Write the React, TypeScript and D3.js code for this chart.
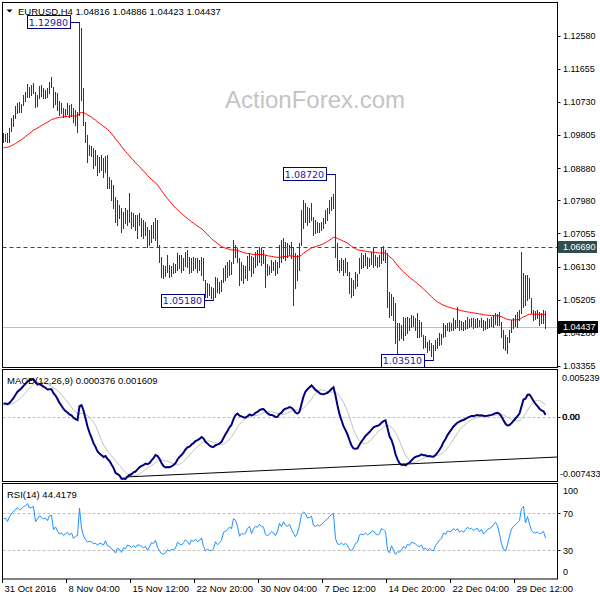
import React from "react";
import * as d3 from "d3";

// ---- OHLC data (EURUSD H4), bar 0 = 31 Oct 2016 20:00 ----
const highs = [
  1.0987,1.0984,1.0987,1.1001,1.1029,1.1037,1.1062,1.1071,1.1073,1.1068,
  1.1093,1.1101,1.1124,1.1115,1.1121,1.1126,1.1101,1.1093,1.1118,1.1121,
  1.1113,1.1107,1.1113,1.1129,1.1143,1.1115,1.1101,1.1099,1.1076,1.1071,
  1.1057,1.1054,1.1071,1.1065,1.1068,1.1057,1.1051,1.1045,1.1298,1.1280,
  1.1113,1.1017,1.0981,1.0953,1.0950,1.0945,1.0939,1.0925,1.0919,1.0925,
  1.0917,1.0922,1.0925,1.0863,1.0855,1.0841,1.0808,1.0799,1.0785,1.0777,
  1.0766,1.0777,1.0771,1.0819,1.0766,1.0763,1.0757,1.0757,1.0763,1.0749,
  1.0743,1.0738,1.0724,1.0715,1.0729,1.0738,1.0749,1.0743,1.0673,1.0640,
  1.0617,1.0614,1.0645,1.0617,1.0614,1.0623,1.0620,1.0651,1.0645,1.0645,
  1.0637,1.0654,1.0659,1.0640,1.0637,1.0640,1.0637,1.0637,1.0631,1.0640,
  1.0637,1.0575,1.0567,1.0564,1.0556,1.0553,1.0584,1.0581,1.0570,1.0575,
  1.0609,1.0617,1.0626,1.0631,1.0626,1.0687,1.0673,1.0665,1.0637,1.0626,
  1.0617,1.0614,1.0642,1.0651,1.0642,1.0640,1.0654,1.0659,1.0668,1.0665,
  1.0659,1.0645,1.0620,1.0614,1.0631,1.0626,1.0631,1.0626,1.0673,1.0687,
  1.0693,1.0682,1.0679,1.0673,1.0682,1.0668,1.0651,1.0645,1.0679,1.0771,
  1.0799,1.0791,1.0780,1.0777,1.0791,1.0752,1.0743,1.0738,1.0735,1.0738,
  1.0749,1.0771,1.0777,1.0799,1.0808,1.0816,1.0872,1.0679,1.0631,1.0637,
  1.0631,1.0637,1.0626,1.0598,1.0581,1.0575,1.0598,1.0592,1.0637,1.0651,
  1.0645,1.0651,1.0640,1.0637,1.0654,1.0668,1.0645,1.0640,1.0645,1.0668,
  1.0671,1.0659,1.0651,1.0542,1.0536,1.0528,1.0511,1.0455,1.0455,1.0449,
  1.0472,1.0469,1.0472,1.0469,1.0477,1.0475,1.0469,1.0483,1.0463,1.0458,
  1.0421,1.0419,1.0402,1.0407,1.0399,1.0393,1.0407,1.0413,1.0427,1.0424,
  1.0455,1.0449,1.0455,1.0458,1.0455,1.0469,1.0463,1.0500,1.0463,1.0460,
  1.0458,1.0463,1.0472,1.0466,1.0469,1.0469,1.0466,1.0469,1.0463,1.0469,
  1.0463,1.0460,1.0469,1.0466,1.0472,1.0477,1.0483,1.0480,1.0486,1.0458,
  1.0435,1.0421,1.0416,1.0435,1.0463,1.0469,1.0477,1.0486,1.0491,1.0654,
  1.0595,1.0589,1.0589,1.0581,1.0525,1.0491,1.0489,1.0491,1.0486,1.0483,
  1.0491,1.04886,
];
const lows = [
  1.0961,1.0964,1.0961,1.0961,1.0992,1.1006,1.1029,1.1043,1.1045,1.1045,
  1.1065,1.1076,1.1087,1.1087,1.1093,1.1099,1.1059,1.1062,1.1085,1.1090,
  1.1085,1.1085,1.1087,1.1099,1.1115,1.1059,1.1068,1.1051,1.1037,1.1043,
  1.1031,1.1034,1.1040,1.1031,1.1034,1.1017,1.1009,1.0989,1.1037,1.1079,
  1.1009,1.0961,1.0905,1.0925,1.0922,1.0889,1.0897,1.0869,1.0877,1.0883,
  1.0863,1.0877,1.0833,1.0833,1.0799,1.0777,1.0738,1.0729,1.0749,1.0710,
  1.0721,1.0735,1.0729,1.0738,1.0721,1.0726,1.0715,1.0693,1.0729,1.0698,
  1.0693,1.0701,1.0668,1.0673,1.0682,1.0693,1.0687,1.0668,1.0626,1.0584,
  1.0581,1.0587,1.0598,1.0584,1.0587,1.0595,1.0598,1.0603,1.0609,1.0598,
  1.0603,1.0614,1.0612,1.0595,1.0598,1.0603,1.0609,1.0598,1.0603,1.0589,
  1.0575,1.0528,1.0528,1.0533,1.0525,1.0518,1.0528,1.0542,1.0539,1.0544,
  1.0570,1.0575,1.0584,1.0589,1.0592,1.0623,1.0640,1.0626,1.0561,1.0575,
  1.0567,1.0581,1.0575,1.0603,1.0587,1.0595,1.0612,1.0617,1.0626,1.0617,
  1.0623,1.0556,1.0589,1.0592,1.0598,1.0603,1.0589,1.0595,1.0612,1.0626,
  1.0637,1.0631,1.0640,1.0645,1.0637,1.0505,1.0553,1.0575,1.0603,1.0673,
  1.0721,1.0738,1.0729,1.0738,1.0743,1.0701,1.0707,1.0710,1.0710,1.0715,
  1.0721,1.0735,1.0743,1.0763,1.0771,1.0777,1.0640,1.0603,1.0598,1.0603,
  1.0589,1.0598,1.0589,1.0539,1.0528,1.0533,1.0553,1.0559,1.0595,1.0609,
  1.0612,1.0617,1.0609,1.0614,1.0620,1.0612,1.0617,1.0612,1.0614,1.0623,
  1.0631,1.0626,1.0500,1.0472,1.0477,1.0463,1.0399,1.0371,1.0407,1.0413,
  1.0407,1.0421,1.0427,1.0435,1.0444,1.0447,1.0435,1.0416,1.0416,1.0419,
  1.0385,1.0388,1.0374,1.0379,1.0363,1.0351,1.0379,1.0385,1.0393,1.0396,
  1.0416,1.0419,1.0435,1.0433,1.0435,1.0435,1.0441,1.0444,1.0435,1.0438,
  1.0435,1.0438,1.0441,1.0444,1.0447,1.0441,1.0444,1.0444,1.0447,1.0444,
  1.0435,1.0438,1.0441,1.0444,1.0447,1.0444,1.0452,1.0449,1.0449,1.0416,
  1.0385,1.0379,1.0371,1.0402,1.0430,1.0441,1.0447,1.0444,1.0463,1.0483,
  1.0500,1.0505,1.0519,1.0525,1.0483,1.0463,1.0466,1.0469,1.0449,1.0455,
  1.0455,1.04423,
];
const closes = [
  1.0973,1.0978,1.0967,1.0995,1.1017,1.1029,1.1051,1.1062,1.1057,1.1065,
  1.1085,1.1093,1.1113,1.1101,1.1107,1.1115,1.1068,1.1085,1.1107,1.1101,
  1.1096,1.1101,1.1093,1.1121,1.1124,1.1071,1.1085,1.1065,1.1051,1.1057,
  1.1045,1.1051,1.1057,1.1045,1.1054,1.1029,1.1037,1.1040,1.1247,1.1107,
  1.1023,1.0973,1.0939,1.0945,1.0939,1.0911,1.0917,1.0889,1.0905,1.0897,
  1.0883,1.0911,1.0855,1.0849,1.0813,1.0799,1.0757,1.0785,1.0771,1.0729,
  1.0757,1.0743,1.0766,1.0757,1.0738,1.0749,1.0729,1.0743,1.0738,1.0729,
  1.0715,1.0721,1.0687,1.0701,1.0721,1.0715,1.0729,1.0673,1.0637,1.0603,
  1.0598,1.0603,1.0617,1.0603,1.0609,1.0609,1.0614,1.0637,1.0626,1.0617,
  1.0626,1.0637,1.0626,1.0609,1.0626,1.0617,1.0626,1.0614,1.0617,1.0626,
  1.0581,1.0547,1.0553,1.0542,1.0542,1.0547,1.0570,1.0553,1.0559,1.0567,
  1.0598,1.0603,1.0609,1.0620,1.0614,1.0665,1.0659,1.0637,1.0589,1.0603,
  1.0598,1.0603,1.0626,1.0637,1.0603,1.0626,1.0642,1.0637,1.0654,1.0645,
  1.0642,1.0609,1.0603,1.0609,1.0620,1.0614,1.0603,1.0620,1.0659,1.0645,
  1.0673,1.0659,1.0654,1.0665,1.0645,1.0626,1.0609,1.0626,1.0665,1.0757,
  1.0777,1.0771,1.0749,1.0757,1.0766,1.0721,1.0715,1.0726,1.0721,1.0729,
  1.0743,1.0757,1.0766,1.0785,1.0799,1.0805,1.0673,1.0626,1.0617,1.0626,
  1.0609,1.0617,1.0598,1.0561,1.0547,1.0559,1.0581,1.0587,1.0626,1.0631,
  1.0626,1.0637,1.0626,1.0631,1.0642,1.0645,1.0631,1.0626,1.0631,1.0654,
  1.0648,1.0642,1.0519,1.0491,1.0525,1.0477,1.0421,1.0435,1.0430,1.0441,
  1.0458,1.0435,1.0458,1.0447,1.0463,1.0458,1.0449,1.0435,1.0430,1.0435,
  1.0402,1.0407,1.0385,1.0393,1.0379,1.0374,1.0393,1.0402,1.0413,1.0419,
  1.0441,1.0435,1.0449,1.0447,1.0449,1.0458,1.0452,1.0458,1.0447,1.0452,
  1.0447,1.0455,1.0463,1.0458,1.0460,1.0455,1.0458,1.0460,1.0452,1.0458,
  1.0447,1.0452,1.0458,1.0460,1.0463,1.0469,1.0475,1.0469,1.0452,1.0424,
  1.0402,1.0393,1.0407,1.0430,1.0452,1.0463,1.0469,1.0477,1.0486,1.0561,
  1.0581,1.0519,1.0570,1.0531,1.0491,1.0477,1.0475,1.0480,1.0469,1.0475,
  1.0482,1.04437,
];

// indicator states before the first visible bar
const maSeed = 1.0944;
const ema12Seed = 1.0958;
const ema26Seed = 1.0943;
const signalSeedHistory = [0.0013, 0.0013, 0.0013, 0.0013, 0.0013, 0.0013, 0.0013, 0.0013];
const rsiSeed = { prevClose: 1.097, avgGain: 0.001, avgLoss: 0.00058 };

// axis ticks / labels
const priceTicks = [1.1258, 1.11655, 1.1073, 1.09805, 1.0888, 1.0798, 1.07055, 1.0613, 1.05205, 1.0428, 1.03355];
const dateLabels = ["31 Oct 2016", "8 Nov 04:00", "15 Nov 12:00", "22 Nov 20:00", "30 Nov 04:00", "7 Dec 12:00", "14 Dec 20:00", "22 Dec 04:00", "29 Dec 12:00"];
const dateLabelBars = [0, 32, 64, 96, 128, 160, 192, 224, 256];
const annotations = [
  { text: "1.12980", value: 1.1298, bar: 38 },
  { text: "1.05180", value: 1.0518, bar: 105 },
  { text: "1.08720", value: 1.0872, bar: 166 },
  { text: "1.03510", value: 1.0351, bar: 215 },
];
const resistanceLevel = 1.0669;
const lastPrice = 1.04437;
const macdRange = [-0.007433, 0.005239];
const macdTrend = [{ bar: 61, value: -0.00686 }, { bar: 277, value: -0.00458 }];
const rsiLevels = [70, 30];
const rsiLabels = [100, 70, 30, 0];
const titleText = "EURUSD,H4  1.04816 1.04886 1.04423 1.04437";
const macdTitle = "MACD(12,26,9) 0.000376 0.001609";
const rsiTitle = "RSI(14) 44.4179";

function ema(values: number[], period: number, seed: number) {
  const k = 2 / (period + 1);
  let e = seed;
  return values.map((v) => (e = e + k * (v - e)));
}

const ma55 = ema(closes, 55, maSeed);
const e12 = ema(closes, 12, ema12Seed);
const e26 = ema(closes, 26, ema26Seed);
const macd = e12.map((v, i) => v - e26[i]);
const macdHist = [...signalSeedHistory, ...macd];
const signal = macd.map((_, i) => d3.mean(macdHist.slice(i, i + 9)) as number);
const rsi = (() => {
  let prev = rsiSeed.prevClose, ag = rsiSeed.avgGain, al = rsiSeed.avgLoss;
  return closes.map((c) => {
    const d = c - prev;
    prev = c;
    ag = (ag * 13 + Math.max(d, 0)) / 14;
    al = (al * 13 + Math.max(-d, 0)) / 14;
    return 100 - 100 / (1 + ag / al);
  });
})();

const FONT = "'Liberation Sans', Arial, sans-serif";
const BAR = "#173f5f";
const AX = 9;

export default function App() {
  const n = closes.length;
  const x = d3.scaleLinear().domain([0, n - 1]).range([3.5, 3.5 + 2 * (n - 1)]);
  const yP = d3.scaleLinear().domain([1.03355, 1.1258]).range([365.7, 36]);
  const yM = d3.scaleLinear().domain(macdRange).range([482, 371]);
  const yR = d3.scaleLinear().domain([0, 100]).range([578, 485.5]);

  const maLine = d3.line<number>().x((_, i) => x(i)).y((d) => yP(d))(ma55) as string;
  const macdLine = d3.line<number>().x((_, i) => x(i)).y((d) => yM(d))(macd) as string;
  const sigLine = d3.line<number>().x((_, i) => x(i)).y((d) => yM(d))(signal) as string;
  const rsiLine = d3.line<number>().x((_, i) => x(i)).y((d) => yR(d))(rsi) as string;

  const L = 2.5, R = 557.5;
  return (
    <svg width={600} height={600} style={{ position: "absolute", left: 0, top: 0, background: "#fff" }}
      fontFamily={FONT}>
      <defs>
        <clipPath id="cMain"><rect x={3} y={3} width={554} height={364} /></clipPath>
        <clipPath id="cMacd"><rect x={3} y={370} width={554} height={111} /></clipPath>
        <clipPath id="cRsi"><rect x={3} y={484} width={554} height={94} /></clipPath>
      </defs>
      <rect width={600} height={600} fill="#fff" />

      {/* ---------- main panel ---------- */}
      <text x={315} y={108} fontSize={24} fill="#c4c4c4" textAnchor="middle" fontFamily={FONT}>ActionForex.com</text>
      <g clipPath="url(#cMain)">
        <line x1={L} x2={R} y1={Math.round(yP(lastPrice)) + 0.5} y2={Math.round(yP(lastPrice)) + 0.5} stroke="#c0c0c0" />
        <line x1={L} x2={R} y1={Math.round(yP(resistanceLevel)) + 0.5} y2={Math.round(yP(resistanceLevel)) + 0.5}
          stroke="#2f4f4f" strokeDasharray="4,3" />
        {closes.map((_, i) => (
          <line key={i} x1={x(i)} x2={x(i)} y1={Math.round(yP(highs[i]))} y2={Math.round(yP(lows[i])) + 1}
            stroke={BAR} strokeWidth={1} />
        ))}
        <path d={maLine} fill="none" stroke="#ff0000" strokeWidth={1} />
        {annotations.map((a, k) => {
          const bx = x(a.bar);
          const by = yP(a.value);
          const w = 43, h = 13;
          const x0 = bx - 10 - w;
          return (
            <g key={k}>
              <line x1={x0 + w} x2={bx} y1={Math.round(by) + 0.5} y2={Math.round(by) + 0.5} stroke="#000080" />
              <rect x={Math.round(x0) + 0.5} y={Math.round(by - h / 2) + 0.5} width={w} height={h} fill="#fff" stroke="#000080" />
              <text x={x0 + w / 2 + 0.5} y={by + 4} fontSize={9.5} fill="#1c1ca0" textAnchor="middle"
                fontFamily="'DejaVu Sans', Verdana, sans-serif">{a.text}</text>
            </g>
          );
        })}
      </g>
      <rect x={L} y={2.5} width={R - L} height={365} fill="none" stroke="#000" />
      <polygon points="6.5,9.5 12.5,9.5 9.5,12.5" fill="#000" />
      <text x={18} y={14.5} fontSize={9.5} fill="#000">{titleText}</text>
      {priceTicks.map((v, k) => (
        <g key={k}>
          <line x1={R} x2={R + 3} y1={Math.round(yP(v)) + 0.5} y2={Math.round(yP(v)) + 0.5} stroke="#000" />
          <text x={563} y={yP(v) + 3.3} fontSize={AX} fill="#000">{v.toFixed(5)}</text>
        </g>
      ))}
      <rect x={558} y={Math.round(yP(resistanceLevel)) - 6} width={39} height={12} fill="#2f4f4f" />
      <text x={563} y={yP(resistanceLevel) + 3.3} fontSize={AX} fill="#fff">{resistanceLevel.toFixed(5)}</text>
      <rect x={558} y={Math.round(yP(lastPrice)) - 6} width={40} height={12} fill="#000" />
      <text x={563} y={yP(lastPrice) + 3.3} fontSize={AX} fill="#fff">{lastPrice.toFixed(5)}</text>

      {/* ---------- MACD panel ---------- */}
      <g clipPath="url(#cMacd)">
        <line x1={L} x2={R} y1={Math.round(yM(0)) + 0.5} y2={Math.round(yM(0)) + 0.5} stroke="#c0c0c0" strokeDasharray="3,2" />
        <path d={sigLine} fill="none" stroke="#c0c0c0" strokeWidth={1} />
        <path d={macdLine} fill="none" stroke="#000080" strokeWidth={2} />
        <line x1={x(macdTrend[0].bar)} y1={yM(macdTrend[0].value)} x2={x(macdTrend[1].bar)} y2={yM(macdTrend[1].value)}
          stroke="#000" strokeWidth={1} />
      </g>
      <rect x={L} y={369.5} width={R - L} height={112} fill="none" stroke="#000" />
      <text x={7} y={383.5} fontSize={9.5} fill="#000">{macdTitle}</text>
      <line x1={R} x2={R + 3} y1={Math.round(yM(0)) + 0.5} y2={Math.round(yM(0)) + 0.5} stroke="#000" />
      <text x={562} y={381.3} fontSize={AX} fill="#000">{macdRange[1].toFixed(6)}</text>
      <text x={562} y={yM(0) + 3.3} fontSize={AX} fill="#000">0.00</text>
      <text x={562.4} y={yM(0) + 3.3} fontSize={AX} fill="#000">0.00</text>
      <text x={560} y={477.3} fontSize={AX} fill="#000">{macdRange[0].toFixed(6)}</text>

      {/* ---------- RSI panel ---------- */}
      <g clipPath="url(#cRsi)">
        {rsiLevels.map((v) => (
          <line key={v} x1={L} x2={R} y1={Math.round(yR(v)) + 0.5} y2={Math.round(yR(v)) + 0.5} stroke="#c0c0c0" strokeDasharray="3,2" />
        ))}
        <path d={rsiLine} fill="none" stroke="#1e90ff" strokeWidth={1} />
      </g>
      <rect x={L} y={483.5} width={R - L} height={95.5} fill="none" stroke="#000" />
      <text x={7} y={497.5} fontSize={9.5} fill="#000">{rsiTitle}</text>
      {rsiLabels.map((v) => {
        const yy = v === 100 ? 491 : v === 0 ? 572 : yR(v);
        return (
          <g key={v}>
            {v !== 100 && v !== 0 && <line x1={R} x2={R + 3} y1={Math.round(yy) + 0.5} y2={Math.round(yy) + 0.5} stroke="#000" />}
            <text x={563} y={yy + 3.3} fontSize={AX} fill="#000">{v}</text>
          </g>
        );
      })}

      {/* ---------- time axis ---------- */}
      {dateLabels.map((t, k) => {
        const xx = Math.round(x(dateLabelBars[k]) - 0.5) - 0.5;
        return (
          <g key={k}>
            <line x1={xx} x2={xx} y1={579} y2={583} stroke="#000" />
            <text x={xx + 2} y={592} fontSize={9.5} fill="#000">{t}</text>
          </g>
        );
      })}
    </svg>
  );
}
